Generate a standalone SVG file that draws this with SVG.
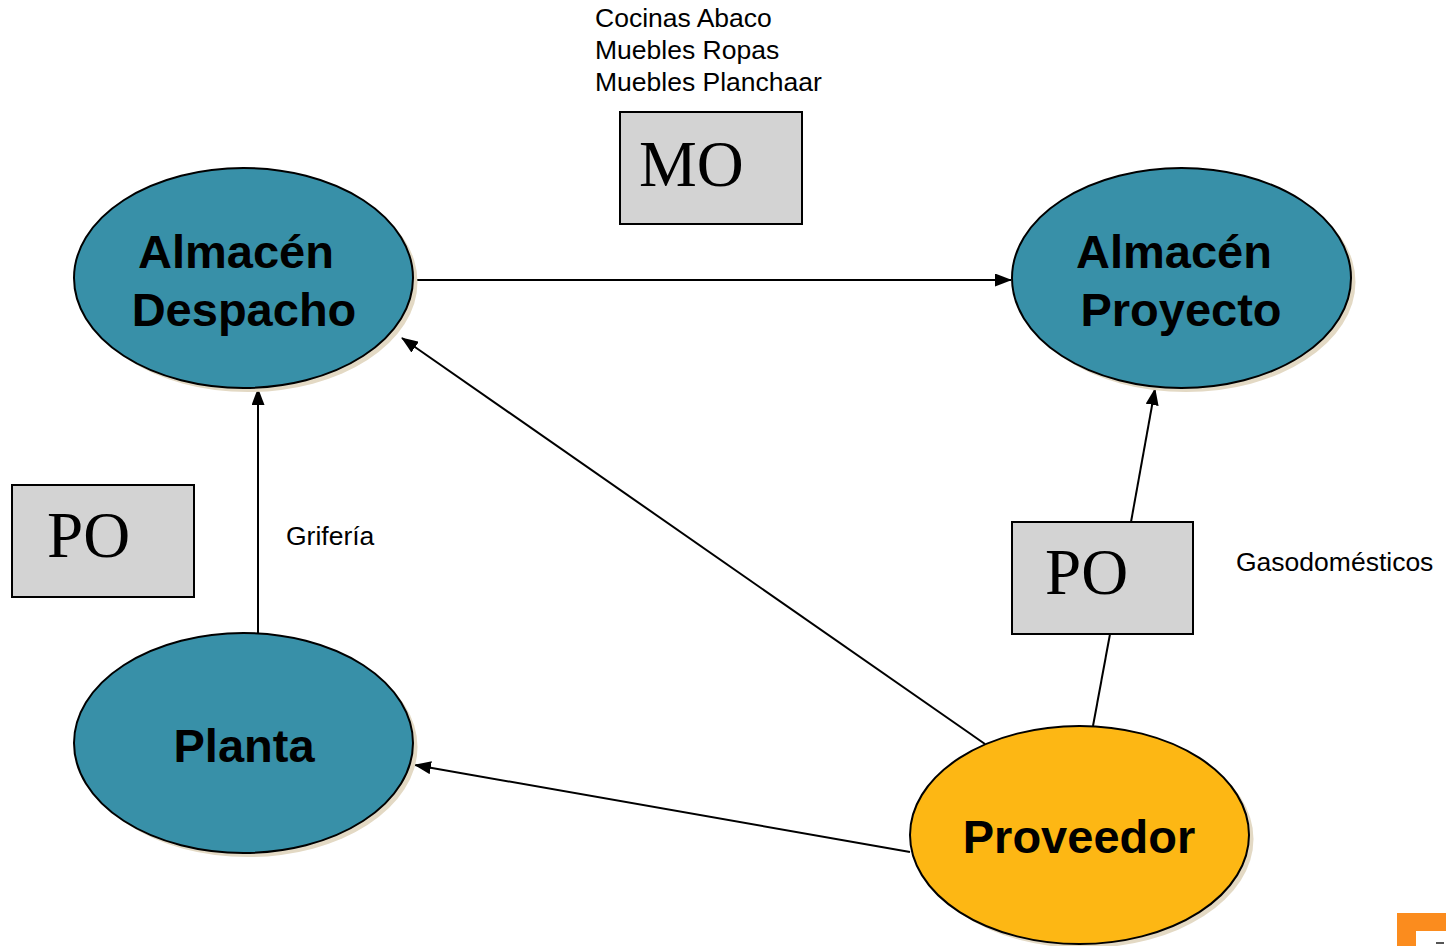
<svg xmlns="http://www.w3.org/2000/svg" width="1446" height="946" viewBox="0 0 1446 946">
<style>
.shadow{fill:#e3d9c4}
.teal{fill:#3890a8;stroke:#000;stroke-width:2}
.orange{fill:#fdb714;stroke:#000;stroke-width:2}
.box{fill:#d3d3d3;stroke:#000;stroke-width:2}
.big{font-family:"Liberation Sans",Arial,sans-serif;font-weight:bold;font-size:47px;fill:#000;text-anchor:middle}
.ser{font-family:"Liberation Serif","Times New Roman",serif;font-size:65px;fill:#000}
.lbl{font-family:"Liberation Sans",Arial,sans-serif;font-size:26.5px;fill:#000}
.con{stroke:#000;stroke-width:2;fill:none}
</style>
<defs>
<marker id="ah" markerWidth="17" markerHeight="13" refX="16" refY="6.5" orient="auto" markerUnits="userSpaceOnUse">
<path d="M0,0 L17,6.5 L0,13 z" fill="#000"/>
</marker>
</defs>
<rect width="1446" height="946" fill="#fff"/>
<g id="connectors">
<line class="con" x1="413" y1="280" x2="1011" y2="280" marker-end="url(#ah)"/>
<line class="con" x1="258" y1="633" x2="258" y2="389" marker-end="url(#ah)"/>
<line class="con" x1="985" y1="744" x2="402" y2="338" marker-end="url(#ah)"/>
<line class="con" x1="910" y1="852" x2="415" y2="765" marker-end="url(#ah)"/>
<line class="con" x1="1093" y1="726" x2="1110" y2="634"/>
<line class="con" x1="1131" y1="522" x2="1155" y2="389" marker-end="url(#ah)"/>
</g>
<g id="almacen-despacho">
<ellipse class="shadow" cx="248" cy="282" rx="169.5" ry="110"/>
<ellipse class="teal" cx="243.5" cy="278" rx="169.5" ry="110"/>
<text class="big" x="236" y="268">Almacén</text>
<text class="big" x="244" y="326">Despacho</text>
</g>
<g id="almacen-proyecto">
<ellipse class="shadow" cx="1186" cy="282" rx="169.5" ry="110"/>
<ellipse class="teal" cx="1181.5" cy="278" rx="169.5" ry="110"/>
<text class="big" x="1174" y="268">Almacén</text>
<text class="big" x="1181" y="326">Proyecto</text>
</g>
<g id="planta">
<ellipse class="shadow" cx="248" cy="747" rx="169.5" ry="110"/>
<ellipse class="teal" cx="243.5" cy="743" rx="169.5" ry="110"/>
<text class="big" x="244" y="762">Planta</text>
</g>
<g id="proveedor">
<ellipse class="shadow" cx="1084" cy="839" rx="169.5" ry="109"/>
<ellipse class="orange" cx="1079.5" cy="835" rx="169.5" ry="109"/>
<text class="big" x="1079" y="853">Proveedor</text>
</g>
<g id="mo-box">
<rect class="box" x="620" y="112" width="182" height="112"/>
<text class="ser" x="639" y="186">MO</text>
</g>
<g id="po-left">
<rect class="box" x="12" y="485" width="182" height="112"/>
<text class="ser" x="47" y="557">PO</text>
</g>
<g id="po-right">
<rect class="box" x="1012" y="522" width="181" height="112"/>
<text class="ser" x="1045" y="594">PO</text>
</g>
<g id="labels">
<text class="lbl" x="595" y="27">Cocinas Abaco</text>
<text class="lbl" x="595" y="59">Muebles Ropas</text>
<text class="lbl" x="595" y="91">Muebles Planchaar</text>
<text class="lbl" x="286" y="545">Grifería</text>
<text class="lbl" x="1236" y="571">Gasodomésticos</text>
</g>
<g id="corner-mark">
<rect x="1397" y="913" width="49" height="33" fill="#fb8c1e"/>
<rect x="1416" y="931" width="30" height="15" fill="#fff"/>
<rect x="1436" y="942" width="8" height="2" fill="#555"/>
</g>
</svg>
